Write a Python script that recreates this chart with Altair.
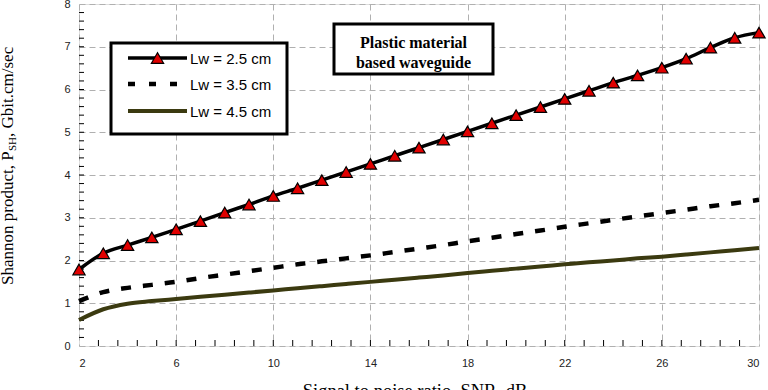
import altair as alt
import pandas as pd

# Signal-to-noise ratio (dB) sample points
snr = list(range(2, 31))

# Shannon product (Gbit.cm/sec) for three waveguide lengths
lw25 = [1.79, 2.17, 2.36, 2.54, 2.73, 2.92, 3.12, 3.31, 3.51, 3.69,
        3.88, 4.07, 4.26, 4.45, 4.64, 4.83, 5.02, 5.21, 5.40, 5.59,
        5.78, 5.97, 6.16, 6.33, 6.51, 6.72, 6.98, 7.21, 7.33]
lw35 = [1.05, 1.26, 1.36, 1.43, 1.50, 1.59, 1.67, 1.75, 1.83, 1.91,
        1.98, 2.05, 2.12, 2.20, 2.28, 2.36, 2.45, 2.53, 2.62, 2.70,
        2.79, 2.87, 2.95, 3.03, 3.11, 3.19, 3.27, 3.34, 3.42]
lw45 = [0.61, 0.86, 0.99, 1.05, 1.10, 1.15, 1.20, 1.25, 1.30, 1.35,
        1.40, 1.45, 1.50, 1.55, 1.60, 1.65, 1.71, 1.76, 1.81, 1.86,
        1.91, 1.96, 2.00, 2.05, 2.09, 2.14, 2.19, 2.24, 2.29]

legend_labels = ["Lw = 2.5 cm", "Lw = 3.5 cm", "Lw = 4.5 cm"]
x_ticks = [2, 6, 10, 14, 18, 22, 26, 30]
y_ticks = [0, 1, 2, 3, 4, 5, 6, 7, 8]
x_minor = [round(2 + 0.8 * k, 2) for k in range(1, 35)]
y_minor = [round(0.2 * k, 2) for k in range(1, 40)]

W, H = 680, 342
OLIVE = "#3b3a10"
SERIF = "Liberation Serif"
SANS = "Liberation Sans"

xs = alt.Scale(domain=[2, 30], nice=False, zero=False)
ys = alt.Scale(domain=[0, 8], nice=False)

x_axis = alt.Axis(values=x_ticks, format="d", title=None, grid=True,
                  gridDash=[6, 4], gridColor="#b0b0b0", gridWidth=1,
                  domain=False, ticks=False, labelFont=SANS, labelFontSize=11,
                  labelColor="#222222", labelPadding=11)
y_axis = alt.Axis(values=y_ticks, format="d", title=None, grid=True,
                  gridDash=[6, 4], gridColor="#b0b0b0", gridWidth=1,
                  domain=False, ticks=False, labelFont=SANS, labelFontSize=11,
                  labelColor="#222222", labelPadding=9)

df25 = pd.DataFrame({"snr": snr, "p": lw25})
df35 = pd.DataFrame({"snr": snr, "p": lw35})
df45 = pd.DataFrame({"snr": snr, "p": lw45})

base_axes = alt.Chart(df25).mark_point(opacity=0).encode(
    x=alt.X("snr:Q", scale=xs, axis=x_axis),
    y=alt.Y("p:Q", scale=ys, axis=y_axis),
)

line45 = alt.Chart(df45).mark_line(color=OLIVE, strokeWidth=4, interpolate="monotone").encode(
    x=alt.X("snr:Q", scale=xs), y=alt.Y("p:Q", scale=ys))
line35 = alt.Chart(df35).mark_line(color="black", strokeWidth=4.5, strokeDash=[10, 12],
                                   strokeCap="butt", interpolate="monotone").encode(
    x=alt.X("snr:Q", scale=xs), y=alt.Y("p:Q", scale=ys))
line25 = alt.Chart(df25).mark_line(color="black", strokeWidth=3.5, interpolate="monotone").encode(
    x=alt.X("snr:Q", scale=xs), y=alt.Y("p:Q", scale=ys))
tri25 = alt.Chart(df25).mark_point(shape="triangle-up", filled=True, fill="#e00000",
                                   stroke="black", strokeWidth=1.2, size=150, opacity=1).encode(
    x=alt.X("snr:Q", scale=xs), y=alt.Y("p:Q", scale=ys))

# inward minor ticks along the bottom and left frame
xminor_df = pd.DataFrame({"v": x_minor})
yminor_df = pd.DataFrame({"v": y_minor})
xminor = alt.Chart(xminor_df).mark_rule(color="black", strokeWidth=1).encode(
    x=alt.X("v:Q", scale=xs), y=alt.value(H - 6), y2=alt.value(H))
yminor = alt.Chart(yminor_df).mark_rule(color="black", strokeWidth=1).encode(
    y=alt.Y("v:Q", scale=ys), x=alt.value(0), x2=alt.value(5))

one = pd.DataFrame({"k": [0]})

# legend box
leg_box = alt.Chart(one).mark_rect(fill="white", stroke="black", strokeWidth=3).encode(
    x=alt.value(32), x2=alt.value(208), y=alt.value(39), y2=alt.value(130))
leg_rows = [54, 80, 107]
leg_l1 = alt.Chart(one).mark_rule(color="black", strokeWidth=3.5).encode(
    x=alt.value(49), x2=alt.value(108), y=alt.value(leg_rows[0]))
leg_t1 = alt.Chart(one).mark_point(shape="triangle-up", filled=True, fill="#e00000",
                                   stroke="black", strokeWidth=1.2, size=150, opacity=1).encode(
    x=alt.value(78.5), y=alt.value(leg_rows[0]))
leg_l2 = alt.Chart(one).mark_rule(color="black", strokeWidth=4.5, strokeDash=[7, 14],
                                  strokeCap="butt").encode(
    x=alt.value(49), x2=alt.value(108), y=alt.value(leg_rows[1]))
leg_l3 = alt.Chart(one).mark_rule(color=OLIVE, strokeWidth=4).encode(
    x=alt.value(49), x2=alt.value(108), y=alt.value(leg_rows[2]))
leg_text = [
    alt.Chart(one).mark_text(text=legend_labels[i], font=SANS, fontSize=15, align="left",
                             baseline="middle", color="black").encode(
        x=alt.value(111), y=alt.value(leg_rows[i] + 1))
    for i in range(3)
]

# annotation box
note_box = alt.Chart(one).mark_rect(fill="white", stroke="black", strokeWidth=3).encode(
    x=alt.value(255), x2=alt.value(414), y=alt.value(20), y2=alt.value(70))
note1 = alt.Chart(one).mark_text(text="Plastic material", font=SERIF, fontSize=16,
                                 fontWeight="bold", align="center", baseline="alphabetic",
                                 color="black").encode(x=alt.value(334.5), y=alt.value(44))
note2 = alt.Chart(one).mark_text(text="based waveguide", font=SERIF, fontSize=16,
                                 fontWeight="bold", align="center", baseline="alphabetic",
                                 color="black").encode(x=alt.value(334.5), y=alt.value(64))

# axis titles
ytitle1 = alt.Chart(one).mark_text(text="Shannon product, P", font=SERIF, fontSize=17,
                                   angle=270, align="left", baseline="alphabetic",
                                   color="black").encode(x=alt.value(-66), y=alt.value(281))
ytitle2 = alt.Chart(one).mark_text(text="SH", font=SERIF, fontSize=11,
                                   angle=270, align="left", baseline="alphabetic",
                                   color="black").encode(x=alt.value(-63), y=alt.value(147))
ytitle3 = alt.Chart(one).mark_text(text=", Gbit.cm/sec", font=SERIF, fontSize=17,
                                   angle=270, align="left", baseline="alphabetic",
                                   color="black").encode(x=alt.value(-66), y=alt.value(133))
xtitle = alt.Chart(one).mark_text(text="Signal to noise ratio, SNR, dB", font=SERIF, fontSize=18.5,
                                  align="center", baseline="alphabetic",
                                  color="black").encode(x=alt.value(336), y=alt.value(393))

chart = alt.layer(
    base_axes, xminor, yminor, line45, line35, line25, tri25,
    leg_box, leg_l1, leg_t1, leg_l2, leg_l3, *leg_text,
    note_box, note1, note2, ytitle1, ytitle2, ytitle3, xtitle,
).properties(
    width=W, height=H,
    autosize=alt.AutoSizeParams(type="none"),
    padding={"left": 79, "top": 4, "right": 9, "bottom": 44},
).configure_view(
    stroke="black", strokeWidth=4, fill="white",
).configure(background="white")

chart.save("out.html", embed_options={"renderer": "svg", "actions": False})
